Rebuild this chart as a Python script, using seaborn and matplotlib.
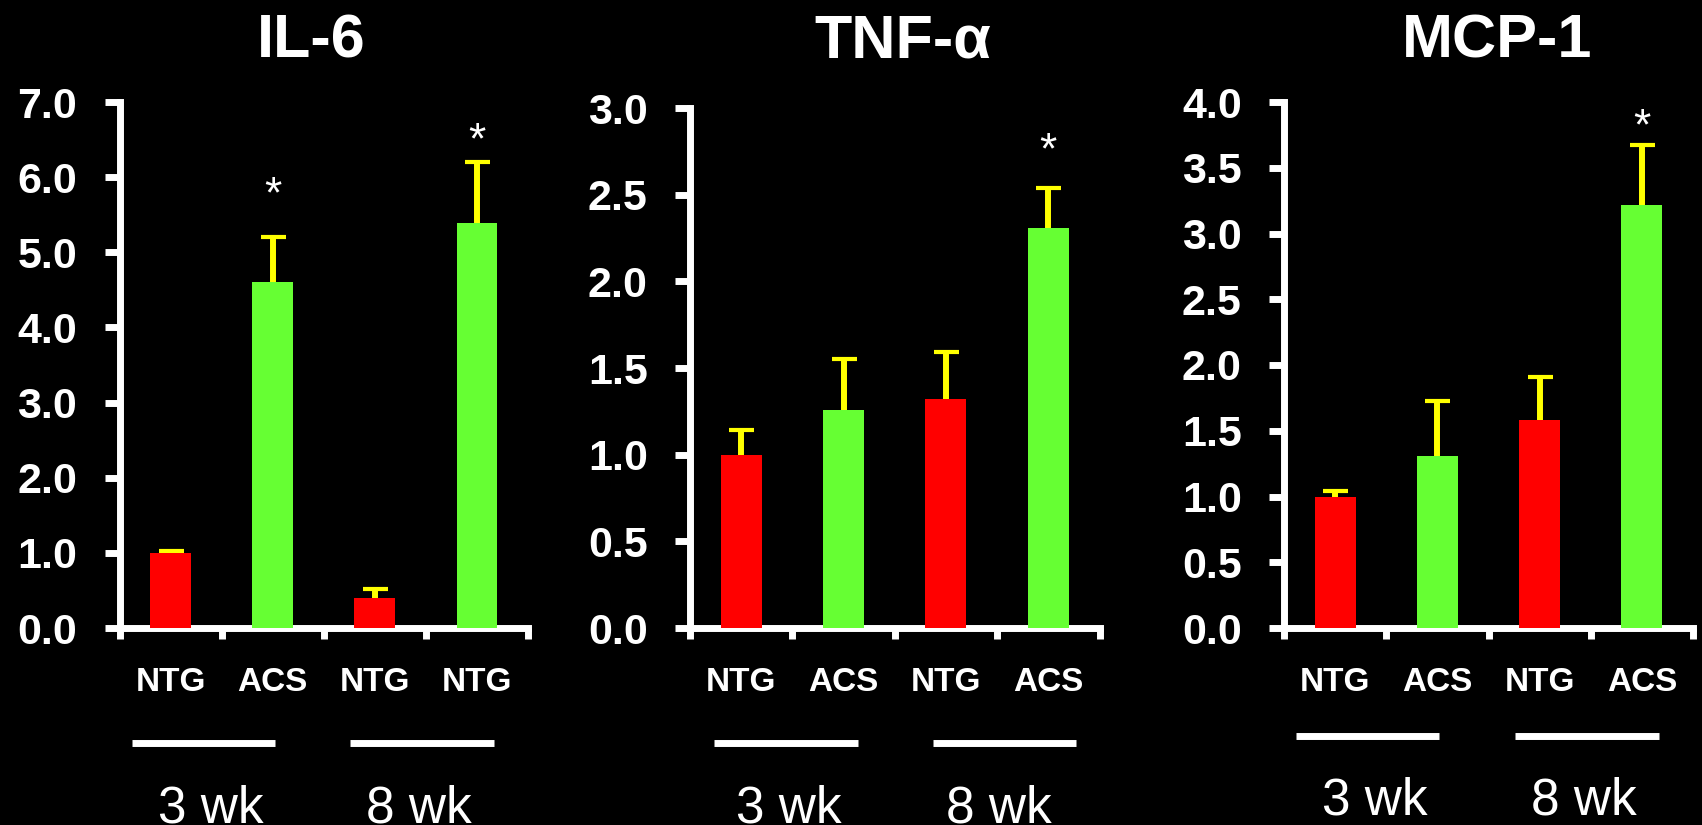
import numpy as np
import pandas as pd
import matplotlib
matplotlib.use("Agg")
import matplotlib.pyplot as plt
from matplotlib.transforms import ScaledTranslation
import seaborn as sns

# --- data ---
panel_titles = ["IL-6", "TNF-α", "MCP-1"]
bar_labels_il6 = ["NTG", "ACS", "NTG", "NTG"]
bar_labels = ["NTG", "ACS", "NTG", "ACS"]
bar_group = ["NTG", "ACS", "NTG", "ACS"]
time_labels = ["3 wk", "8 wk"]

il6_mean = [1.00, 4.61, 0.40, 5.39]
il6_sem = [0.02, 0.59, 0.12, 0.81]
il6_star = [None, 5.94, None, 6.66]

tnf_mean = [1.00, 1.26, 1.32, 2.31]
tnf_sem = [0.14, 0.29, 0.27, 0.23]
tnf_star = [None, None, None, 2.83]

mcp_mean = [1.00, 1.31, 1.58, 3.22]
mcp_sem = [0.04, 0.42, 0.33, 0.45]
mcp_star = [None, None, None, 3.91]

y_max = [7.0, 3.0, 4.0]
y_step = [1.0, 0.5, 0.5]

# --- layout (pixels of a 1702x825 canvas) ---
W, H = 1702, 825
axes_px = [(119.5, 102, 408.5), (690, 108, 409.5), (1284, 102, 409.0)]  # left, top, width
axis_bottom = 628
title_px = [(311, 42), (903, 42), (1497, 42)]
line_spans = [[(-0.38, 1.02), (1.76, 3.17)],
              [(-0.27, 1.14), (1.87, 3.27)],
              [(-0.38, 1.02), (1.76, 3.17)]]
time_x = [[0.39, 2.43], [0.47, 2.52], [0.39, 2.43]]
label_off = [38.9, 38.9, 38.9]
line_off = [83.0, 83.0, 77.4]
time_off = [113.0, 113.0, 107.0]

RED = "#ff0000"
GREEN = "#66ff33"
YELLOW = "#ffff00"

sns.set_style("ticks", {"axes.facecolor": "black", "figure.facecolor": "black"})
plt.rcParams["font.family"] = ["Liberation Sans", "DejaVu Sans"]
plt.rcParams["axes.edgecolor"] = "white"

fig = plt.figure(figsize=(W / 100, H / 100), dpi=100, facecolor="black")

panels = [
    (il6_mean, il6_sem, il6_star, bar_labels_il6),
    (tnf_mean, tnf_sem, tnf_star, bar_labels),
    (mcp_mean, mcp_sem, mcp_star, bar_labels),
]

for i, (mean, sem, star, labels) in enumerate(panels):
    left, top, width = axes_px[i]
    ax = fig.add_axes([left / W, 1 - axis_bottom / H, width / W, (axis_bottom - top) / H])
    ax.set_facecolor("black")

    df = pd.DataFrame({"slot": range(4), "value": mean, "group": bar_group})
    sns.barplot(data=df, x="slot", y="value", hue="group",
                palette={"NTG": RED, "ACS": GREEN}, dodge=False, width=0.4,
                errorbar=None, legend=False, saturation=1, linewidth=0,
                ax=ax, zorder=3)

    # upward-only error bars (hide the lower cap)
    eb = ax.errorbar(np.arange(4), mean, yerr=[np.zeros(4), sem], fmt="none",
                     ecolor=YELLOW, elinewidth=4.3, capsize=9, capthick=3, zorder=2)
    eb[1][0].set_visible(False)

    for x, s in enumerate(star):
        if s is not None:
            ax.annotate("*", xy=(x, s), xytext=(0, -0.575 * 32), textcoords="offset points",
                        ha="center", va="baseline", color="white", fontsize=32,
                        annotation_clip=False)

    ax.set_xlim(-0.5, 3.5)
    ax.set_ylim(0, y_max[i])
    ax.set_yticks(np.arange(0, y_max[i] + 1e-9, y_step[i]))
    ax.set_yticklabels([f"{v:.1f}" for v in ax.get_yticks()])
    ax.set_xticks([])
    ax.set_xticks(np.arange(-0.5, 4, 1.0), minor=True)
    ax.set_xlabel("")
    ax.set_ylabel("")

    for side in ["top", "right"]:
        ax.spines[side].set_visible(False)
    for side in ["left", "bottom"]:
        ax.spines[side].set_color("white")
        ax.spines[side].set_linewidth(5)
        ax.spines[side].set_capstyle("projecting")

    ax.tick_params(axis="y", colors="white", length=10.5, width=5, pad=20,
                   labelsize=31)
    for t in ax.get_yticklabels():
        t.set_fontweight("bold")
    ax.tick_params(axis="x", which="minor", colors="white", length=8, width=5)

    # category labels, group lines and time labels under the axis
    base = ax.get_xaxis_transform()
    for x, lab in enumerate(labels):
        ax.text(x, 0, lab, transform=base + ScaledTranslation(0, -label_off[i] / 72, fig.dpi_scale_trans),
                ha="center", va="center", color="white", fontsize=24, fontweight="bold")
    line_tr = base + ScaledTranslation(0, -line_off[i] / 72, fig.dpi_scale_trans)
    for x0, x1 in line_spans[i]:
        ax.plot([x0, x1], [0, 0], color="white", lw=5, solid_capstyle="butt",
                transform=line_tr, clip_on=False)
    time_tr = base + ScaledTranslation(0, -time_off[i] / 72, fig.dpi_scale_trans)
    for x, lab in zip(time_x[i], time_labels):
        ax.text(x, 0, lab, transform=time_tr, ha="center", va="top",
                color="white", fontsize=37)

    tx, ty = title_px[i]
    fig.text(tx / W, 1 - ty / H, panel_titles[i], ha="center", va="center",
             color="white", fontsize=44, fontweight="bold")

fig.savefig("out.png", dpi=100, facecolor="black")
